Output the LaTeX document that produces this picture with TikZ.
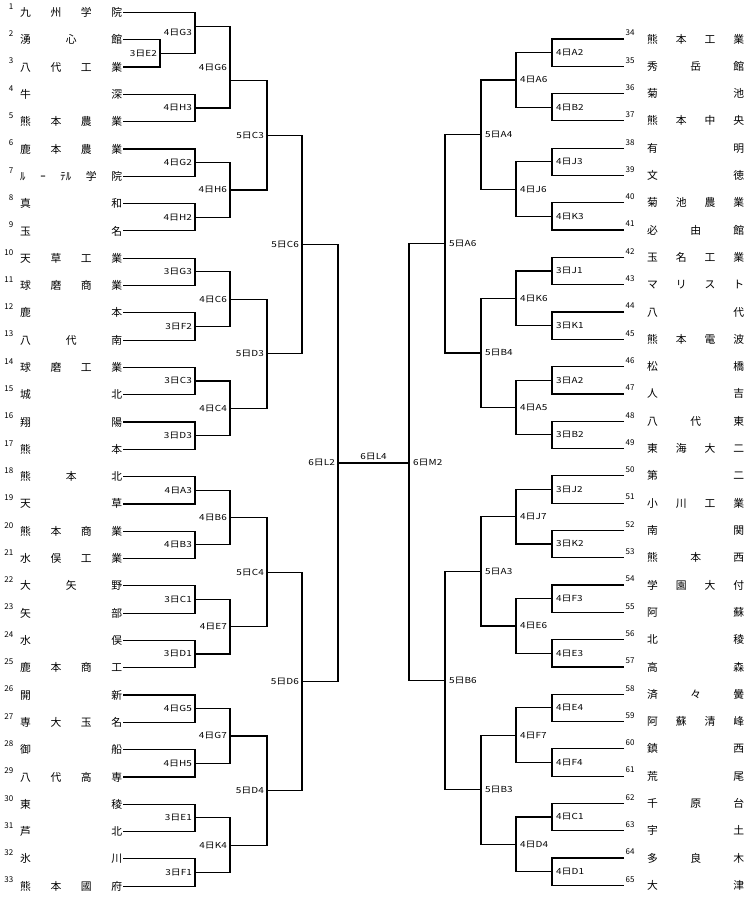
\documentclass[tikz,border=0pt]{standalone}
\usepackage{fontspec}
\setmainfont{Noto Sans CJK JP}
\newfontfamily\labfont[FakeStretch=1.2]{Noto Sans CJK JP}
\usetikzlibrary{calc}
\tikzset{
  ln/.style={line width=1.2pt, black},
  nm/.style={inner sep=0pt, font=\fontsize{10.8}{10.8}\selectfont},
  num/.style={inner sep=0pt, font=\fontsize{8}{8}\selectfont},
  lab/.style={inner sep=0pt, font=\labfont\fontsize{8.3}{8.3}\selectfont},
}
\newcommand\LM[5]{%
  \coordinate (#1x) at (#4,0);
  \coordinate (#1) at ($(#2 -| #1x)!0.5!(#3 -| #1x)$);
  \draw[ln] (#2) -- (#2 -| #1) -- (#3 -| #1) -- (#3);
  \node[lab, anchor=east] (#1t) at ([xshift=-3pt]#1) {#5};
}
\newcommand\RM[5]{%
  \coordinate (#1x) at (#4,0);
  \coordinate (#1) at ($(#2 -| #1x)!0.5!(#3 -| #1x)$);
  \draw[ln] (#2) -- (#2 -| #1) -- (#3 -| #1) -- (#3);
  \node[lab, anchor=west] (#1t) at ([xshift=4pt]#1) {#5};
}
\begin{document}
\begin{tikzpicture}[x=1pt,y=-1pt]
\fill[white] (0,0) rectangle (750,901);
\useasboundingbox (0,0) rectangle (750,901);
% left entries
\foreach \i/\t in {1/九 州 学 院, 2/湧 心 館, 3/八 代 工 業, 4/牛 深, 5/熊 本 農 業,
  6/鹿 本 農 業, 7/ﾙ ｰ ﾃﾙ 学 院, 8/真 和, 9/玉 名, 10/天 草 工 業, 11/球 磨 商 業,
  12/鹿 本, 13/八 代 南, 14/球 磨 工 業, 15/城 北, 16/翔 陽, 17/熊 本,
  18/熊 本 北, 19/天 草, 20/熊 本 商 業, 21/水 俣 工 業, 22/大 矢 野, 23/矢 部,
  24/水 俣, 25/鹿 本 商 工, 26/開 新, 27/専 大 玉 名, 28/御 船, 29/八 代 高 専,
  30/東 稜, 31/芦 北, 32/氷 川, 33/熊 本 國 府}{
  \pgfmathsetmacro\yy{12.5+(\i-1)*27.3}
  \coordinate (L\i) at (123,\yy);
  \node[nm, anchor=west] (Ln\i) at (20,\yy) {\makebox[102pt][s]{\t}};
  \node[num, anchor=east] (Lk\i) at (13.5,{\yy-6}) {\i};
}
% right entries
\foreach \i/\t in {34/熊 本 工 業, 35/秀 岳 館, 36/菊 池, 37/熊 本 中 央, 38/有 明,
  39/文 徳, 40/菊 池 農 業, 41/必 由 館, 42/玉 名 工 業, 43/マ リ ス ト, 44/八 代,
  45/熊 本 電 波, 46/松 橋, 47/人 吉, 48/八 代 東, 49/東 海 大 二, 50/第 二,
  51/小 川 工 業, 52/南 関, 53/熊 本 西, 54/学 園 大 付, 55/阿 蘇, 56/北 稜,
  57/高 森, 58/済 々 黌, 59/阿 蘇 清 峰, 60/鎮 西, 61/荒 尾, 62/千 原 台,
  63/宇 土, 64/多 良 木, 65/大 津}{
  \pgfmathsetmacro\yy{39+(\i-34)*27.3}
  \coordinate (R\i) at (624,\yy);
  \node[nm, anchor=west] (Rn\i) at (647,\yy) {\makebox[97pt][s]{\t}};
  \node[num, anchor=west] (Rk\i) at (625.5,{\yy-6}) {\i};
}
% left bracket
\LM{d3E2}{L2}{L3}{160}{3日E2}
\LM{d4G3}{L1}{d3E2}{195}{4日G3}
\coordinate (d4G3) at (195,{12.5+0.5*27.3});
\LM{d4H3}{L4}{L5}{195}{4日H3}
\LM{d4G6}{d4G3}{d4H3}{230}{4日G6}
\coordinate (d4G6) at (230,{12.5+2.5*27.3});
\LM{d4G2}{L6}{L7}{195}{4日G2}
\LM{d4H2}{L8}{L9}{195}{4日H2}
\LM{d4H6}{d4G2}{d4H2}{230}{4日H6}
\LM{d5C3}{d4G6}{d4H6}{267}{5日C3}
\LM{d3G3}{L10}{L11}{195}{3日G3}
\LM{d3F2}{L12}{L13}{195}{3日F2}
\LM{d4C6}{d3G3}{d3F2}{230}{4日C6}
\LM{d3C3}{L14}{L15}{195}{3日C3}
\LM{d3D3}{L16}{L17}{195}{3日D3}
\LM{d4C4}{d3C3}{d3D3}{230}{4日C4}
\LM{d5D3}{d4C6}{d4C4}{267}{5日D3}
\LM{d5C6}{d5C3}{d5D3}{302}{5日C6}
\LM{d4A3}{L18}{L19}{195}{4日A3}
\LM{d4B3}{L20}{L21}{195}{4日B3}
\LM{d4B6}{d4A3}{d4B3}{230}{4日B6}
\LM{d3C1}{L22}{L23}{195}{3日C1}
\LM{d3D1}{L24}{L25}{195}{3日D1}
\LM{d4E7}{d3C1}{d3D1}{230}{4日E7}
\LM{d5C4}{d4B6}{d4E7}{267}{5日C4}
\LM{d4G5}{L26}{L27}{195}{4日G5}
\LM{d4H5}{L28}{L29}{195}{4日H5}
\LM{d4G7}{d4G5}{d4H5}{230}{4日G7}
\LM{d3E1}{L30}{L31}{195}{3日E1}
\LM{d3F1}{L32}{L33}{195}{3日F1}
\LM{d4K4}{d3E1}{d3F1}{230}{4日K4}
\LM{d5D4}{d4G7}{d4K4}{267}{5日D4}
\LM{d5D6}{d5C4}{d5D4}{302}{5日D6}
\LM{d6L2}{d5C6}{d5D6}{338}{6日L2}
% right bracket
\RM{r4A2}{R34}{R35}{552}{4日A2}
\RM{r4B2}{R36}{R37}{552}{4日B2}
\RM{r4A6}{r4A2}{r4B2}{516}{4日A6}
\RM{r4J3}{R38}{R39}{552}{4日J3}
\RM{r4K3}{R40}{R41}{552}{4日K3}
\RM{r4J6}{r4J3}{r4K3}{516}{4日J6}
\RM{r5A4}{r4A6}{r4J6}{481}{5日A4}
\RM{r3J1}{R42}{R43}{552}{3日J1}
\RM{r3K1}{R44}{R45}{552}{3日K1}
\RM{r4K6}{r3J1}{r3K1}{516}{4日K6}
\RM{r3A2}{R46}{R47}{552}{3日A2}
\RM{r3B2}{R48}{R49}{552}{3日B2}
\RM{r4A5}{r3A2}{r3B2}{516}{4日A5}
\RM{r5B4}{r4K6}{r4A5}{481}{5日B4}
\RM{r5A6}{r5A4}{r5B4}{445}{5日A6}
\RM{r3J2}{R50}{R51}{552}{3日J2}
\RM{r3K2}{R52}{R53}{552}{3日K2}
\RM{r4J7}{r3J2}{r3K2}{516}{4日J7}
\RM{r4F3}{R54}{R55}{552}{4日F3}
\RM{r4E3}{R56}{R57}{552}{4日E3}
\RM{r4E6}{r4F3}{r4E3}{516}{4日E6}
\RM{r5A3}{r4J7}{r4E6}{481}{5日A3}
\RM{r4E4}{R58}{R59}{552}{4日E4}
\RM{r4F4}{R60}{R61}{552}{4日F4}
\RM{r4F7}{r4E4}{r4F4}{516}{4日F7}
\RM{r4C1}{R62}{R63}{552}{4日C1}
\RM{r4D1}{R64}{R65}{552}{4日D1}
\RM{r4D4}{r4C1}{r4D1}{516}{4日D4}
\RM{r5B3}{r4F7}{r4D4}{481}{5日B3}
\RM{r5B6}{r5A3}{r5B3}{445}{5日B6}
\RM{r6M2}{r5A6}{r5B6}{409}{6日M2}
% final
\draw[ln] (d6L2) -- (d6L2 -| r6M2) node[midway, above=2.5pt, lab] (d6L4) {6日L4};
\end{tikzpicture}
\end{document}
